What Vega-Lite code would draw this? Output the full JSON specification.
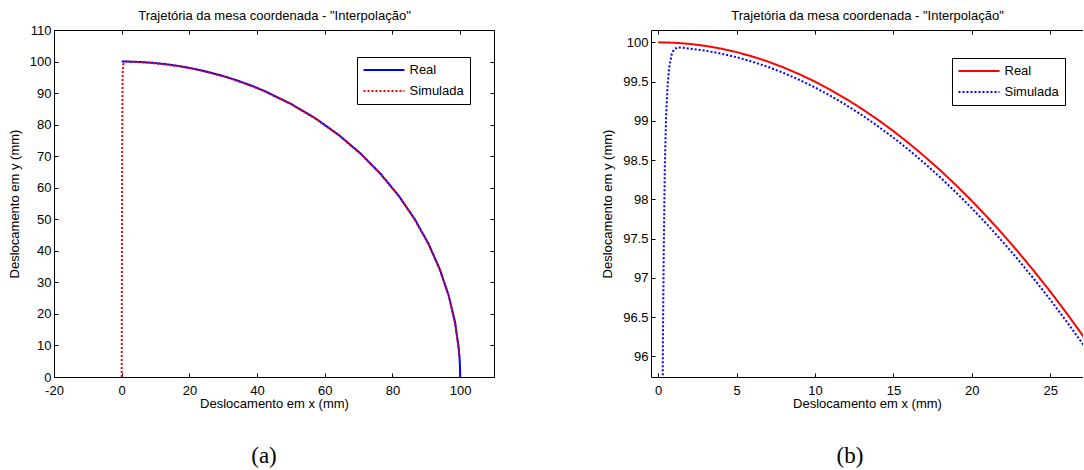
{
  "$schema": "https://vega.github.io/schema/vega-lite/v6.json",
  "background": "white",
  "padding": {"left": 8, "top": 9, "right": 0, "bottom": 0},
  "datasets": {
    "traj": [
      {"s": "Real", "i": 0, "x": 0, "y": 100},
      {"s": "Real", "i": 1, "x": 1, "y": 99.995},
      {"s": "Real", "i": 2, "x": 2, "y": 99.98},
      {"s": "Real", "i": 3, "x": 3, "y": 99.955},
      {"s": "Real", "i": 4, "x": 4, "y": 99.92},
      {"s": "Real", "i": 5, "x": 5, "y": 99.875},
      {"s": "Real", "i": 6, "x": 6, "y": 99.82},
      {"s": "Real", "i": 7, "x": 7, "y": 99.755},
      {"s": "Real", "i": 8, "x": 8, "y": 99.679},
      {"s": "Real", "i": 9, "x": 9, "y": 99.594},
      {"s": "Real", "i": 10, "x": 10, "y": 99.499},
      {"s": "Real", "i": 11, "x": 11, "y": 99.393},
      {"s": "Real", "i": 12, "x": 12, "y": 99.277},
      {"s": "Real", "i": 13, "x": 13, "y": 99.151},
      {"s": "Real", "i": 14, "x": 14, "y": 99.015},
      {"s": "Real", "i": 15, "x": 15, "y": 98.869},
      {"s": "Real", "i": 16, "x": 16, "y": 98.712},
      {"s": "Real", "i": 17, "x": 17, "y": 98.544},
      {"s": "Real", "i": 18, "x": 18, "y": 98.367},
      {"s": "Real", "i": 19, "x": 19, "y": 98.178},
      {"s": "Real", "i": 20, "x": 20, "y": 97.98},
      {"s": "Real", "i": 21, "x": 21, "y": 97.77},
      {"s": "Real", "i": 22, "x": 22, "y": 97.55},
      {"s": "Real", "i": 23, "x": 23, "y": 97.319},
      {"s": "Real", "i": 24, "x": 24, "y": 97.077},
      {"s": "Real", "i": 25, "x": 25, "y": 96.825},
      {"s": "Real", "i": 26, "x": 26, "y": 96.561},
      {"s": "Real", "i": 27, "x": 27, "y": 96.286},
      {"s": "Real", "i": 28, "x": 28, "y": 96.0},
      {"s": "Real", "i": 29, "x": 31, "y": 95.074},
      {"s": "Real", "i": 30, "x": 34.202, "y": 93.969},
      {"s": "Real", "i": 31, "x": 38.268, "y": 92.388},
      {"s": "Real", "i": 32, "x": 42.262, "y": 90.631},
      {"s": "Real", "i": 33, "x": 50, "y": 86.603},
      {"s": "Real", "i": 34, "x": 57.358, "y": 81.915},
      {"s": "Real", "i": 35, "x": 64.279, "y": 76.604},
      {"s": "Real", "i": 36, "x": 70.711, "y": 70.711},
      {"s": "Real", "i": 37, "x": 76.604, "y": 64.279},
      {"s": "Real", "i": 38, "x": 81.915, "y": 57.358},
      {"s": "Real", "i": 39, "x": 86.603, "y": 50},
      {"s": "Real", "i": 40, "x": 90.631, "y": 42.262},
      {"s": "Real", "i": 41, "x": 93.969, "y": 34.202},
      {"s": "Real", "i": 42, "x": 96.593, "y": 25.882},
      {"s": "Real", "i": 43, "x": 98.481, "y": 17.365},
      {"s": "Real", "i": 44, "x": 99.619, "y": 8.716},
      {"s": "Real", "i": 45, "x": 99.863, "y": 5.234},
      {"s": "Real", "i": 46, "x": 99.966, "y": 2.618},
      {"s": "Real", "i": 47, "x": 100, "y": 0},
      {"s": "Simulada", "i": 0, "x": 0, "y": 0},
      {"s": "Simulada", "i": 1, "x": 0.03, "y": 20},
      {"s": "Simulada", "i": 2, "x": 0.08, "y": 50},
      {"s": "Simulada", "i": 3, "x": 0.15, "y": 75},
      {"s": "Simulada", "i": 4, "x": 0.22, "y": 90},
      {"s": "Simulada", "i": 5, "x": 0.27, "y": 95},
      {"s": "Simulada", "i": 6, "x": 0.3, "y": 96.2},
      {"s": "Simulada", "i": 7, "x": 0.35, "y": 97.3},
      {"s": "Simulada", "i": 8, "x": 0.42, "y": 98.4},
      {"s": "Simulada", "i": 9, "x": 0.5, "y": 99.05},
      {"s": "Simulada", "i": 10, "x": 0.6, "y": 99.45},
      {"s": "Simulada", "i": 11, "x": 0.7, "y": 99.68},
      {"s": "Simulada", "i": 12, "x": 0.85, "y": 99.84},
      {"s": "Simulada", "i": 13, "x": 1.0, "y": 99.91},
      {"s": "Simulada", "i": 14, "x": 1.2, "y": 99.932},
      {"s": "Simulada", "i": 15, "x": 1.4, "y": 99.935},
      {"s": "Simulada", "i": 16, "x": 2, "y": 99.921},
      {"s": "Simulada", "i": 17, "x": 3, "y": 99.894},
      {"s": "Simulada", "i": 18, "x": 4, "y": 99.857},
      {"s": "Simulada", "i": 19, "x": 5, "y": 99.81},
      {"s": "Simulada", "i": 20, "x": 6, "y": 99.754},
      {"s": "Simulada", "i": 21, "x": 7, "y": 99.687},
      {"s": "Simulada", "i": 22, "x": 8, "y": 99.609},
      {"s": "Simulada", "i": 23, "x": 9, "y": 99.522},
      {"s": "Simulada", "i": 24, "x": 10, "y": 99.425},
      {"s": "Simulada", "i": 25, "x": 11, "y": 99.317},
      {"s": "Simulada", "i": 26, "x": 12, "y": 99.199},
      {"s": "Simulada", "i": 27, "x": 13, "y": 99.071},
      {"s": "Simulada", "i": 28, "x": 14, "y": 98.933},
      {"s": "Simulada", "i": 29, "x": 15, "y": 98.785},
      {"s": "Simulada", "i": 30, "x": 16, "y": 98.626},
      {"s": "Simulada", "i": 31, "x": 17, "y": 98.456},
      {"s": "Simulada", "i": 32, "x": 18, "y": 98.277},
      {"s": "Simulada", "i": 33, "x": 19, "y": 98.086},
      {"s": "Simulada", "i": 34, "x": 20, "y": 97.886},
      {"s": "Simulada", "i": 35, "x": 21, "y": 97.674},
      {"s": "Simulada", "i": 36, "x": 22, "y": 97.452},
      {"s": "Simulada", "i": 37, "x": 23, "y": 97.219},
      {"s": "Simulada", "i": 38, "x": 24, "y": 96.975},
      {"s": "Simulada", "i": 39, "x": 25, "y": 96.721},
      {"s": "Simulada", "i": 40, "x": 26, "y": 96.455},
      {"s": "Simulada", "i": 41, "x": 27, "y": 96.178},
      {"s": "Simulada", "i": 42, "x": 28, "y": 95.89},
      {"s": "Simulada", "i": 43, "x": 31, "y": 94.96},
      {"s": "Simulada", "i": 44, "x": 34.2, "y": 93.85},
      {"s": "Simulada", "i": 45, "x": 38.27, "y": 92.27},
      {"s": "Simulada", "i": 46, "x": 42.26, "y": 90.51},
      {"s": "Simulada", "i": 47, "x": 50, "y": 86.48},
      {"s": "Simulada", "i": 48, "x": 57.36, "y": 81.8},
      {"s": "Simulada", "i": 49, "x": 64.28, "y": 76.49},
      {"s": "Simulada", "i": 50, "x": 70.71, "y": 70.6},
      {"s": "Simulada", "i": 51, "x": 76.6, "y": 64.18},
      {"s": "Simulada", "i": 52, "x": 81.91, "y": 57.26},
      {"s": "Simulada", "i": 53, "x": 86.6, "y": 49.9},
      {"s": "Simulada", "i": 54, "x": 90.63, "y": 42.17},
      {"s": "Simulada", "i": 55, "x": 93.97, "y": 34.1},
      {"s": "Simulada", "i": 56, "x": 96.59, "y": 25.8},
      {"s": "Simulada", "i": 57, "x": 98.48, "y": 17.28},
      {"s": "Simulada", "i": 58, "x": 99.45, "y": 10.3},
      {"s": "Simulada", "i": 59, "x": 99.76, "y": 6.5}
    ]
  },
  "hconcat": [
    {
      "width": 440,
      "height": 347,
      "title": {"text": "(a)", "orient": "bottom", "font": "Liberation Serif", "fontSize": 23, "fontWeight": "normal", "color": "black", "dx": -10, "offset": 35},
      "data": {"name": "traj"},
      "layer": [
        {
          "mark": {"type": "line", "strokeWidth": 2, "clip": true},
          "encoding": {
            "x": {"field": "x", "type": "quantitative", "scale": {"domain": [-20, 110], "nice": false, "zero": false},
                  "axis": {"orient": "bottom", "values": [-20, 0, 20, 40, 60, 80, 100], "labelExpr": "'' + datum.value", "title": "Deslocamento em x (mm)", "labelPadding": 11, "titlePadding": 0}},
            "y": {"field": "y", "type": "quantitative", "scale": {"domain": [0, 110], "nice": false, "zero": false},
                  "axis": {"orient": "left", "values": [0, 10, 20, 30, 40, 50, 60, 70, 80, 90, 100, 110], "title": "Deslocamento em y (mm)", "labelPadding": 7, "titlePadding": 8}},
            "color": {"field": "s", "type": "nominal", "scale": {"domain": ["Real", "Simulada"], "range": ["#0000ff", "#ff0000"]},
                      "legend": {"orient": "none", "legendX": 303, "legendY": 27, "title": null}},
            "strokeDash": {"field": "s", "type": "nominal", "scale": {"domain": ["Real", "Simulada"], "range": [[1, 0], [2, 2]]},
                      "legend": {"orient": "none", "legendX": 303, "legendY": 27, "title": null}},
            "order": {"field": "i", "type": "quantitative"}
          }
        },
        {
          "mark": {"type": "point", "opacity": 0, "clip": true},
          "encoding": {
            "x": {"field": "x", "type": "quantitative", "scale": {"domain": [-20, 110], "nice": false, "zero": false},
                  "axis": {"orient": "top", "values": [-20, 0, 20, 40, 60, 80, 100], "labels": false, "title": "Trajetória da mesa coordenada - \"Interpolação\"", "titlePadding": 7}},
            "y": {"field": "y", "type": "quantitative", "scale": {"domain": [0, 110], "nice": false, "zero": false},
                  "axis": {"orient": "right", "values": [0, 10, 20, 30, 40, 50, 60, 70, 80, 90, 100, 110], "labels": false, "title": null}}
          }
        }
      ],
      "resolve": {"axis": {"x": "independent", "y": "independent"}}
    },
    {
      "width": 432,
      "height": 347,
      "title": {"text": "(b)", "orient": "bottom", "font": "Liberation Serif", "fontSize": 23, "fontWeight": "normal", "color": "black", "dx": -17, "offset": 35},
      "data": {"name": "traj"},
      "layer": [
        {
          "mark": {"type": "line", "strokeWidth": 2, "clip": true},
          "encoding": {
            "x": {"field": "x", "type": "quantitative", "scale": {"domain": [-0.46, 27.09], "nice": false, "zero": false},
                  "axis": {"orient": "bottom", "values": [0, 5, 10, 15, 20, 25], "title": "Deslocamento em x (mm)", "labelPadding": 11, "titlePadding": 0}},
            "y": {"field": "y", "type": "quantitative", "scale": {"domain": [95.736, 100.157], "nice": false, "zero": false},
                  "axis": {"orient": "left", "values": [96, 96.5, 97, 97.5, 98, 98.5, 99, 99.5, 100], "format": "~g", "title": "Deslocamento em y (mm)", "labelPadding": 7, "titlePadding": 8}},
            "color": {"field": "s", "type": "nominal", "scale": {"domain": ["Real", "Simulada"], "range": ["#ff0000", "#0000ff"]},
                      "legend": {"orient": "none", "legendX": 301, "legendY": 28, "title": null}},
            "strokeDash": {"field": "s", "type": "nominal", "scale": {"domain": ["Real", "Simulada"], "range": [[1, 0], [2, 2]]},
                      "legend": {"orient": "none", "legendX": 301, "legendY": 28, "title": null}},
            "order": {"field": "i", "type": "quantitative"}
          }
        },
        {
          "mark": {"type": "point", "opacity": 0, "clip": true},
          "encoding": {
            "x": {"field": "x", "type": "quantitative", "scale": {"domain": [-0.46, 27.09], "nice": false, "zero": false},
                  "axis": {"orient": "top", "values": [0, 5, 10, 15, 20, 25], "labels": false, "title": "Trajetória da mesa coordenada - \"Interpolação\"", "titlePadding": 7}},
            "y": {"field": "y", "type": "quantitative", "scale": {"domain": [95.736, 100.157], "nice": false, "zero": false},
                  "axis": null}
          }
        }
      ],
      "resolve": {"axis": {"x": "independent", "y": "independent"}}
    }
  ],
  "spacing": 157,
  "bounds": "flush",
  "resolve": {
    "scale": {"color": "independent", "strokeDash": "independent", "x": "independent", "y": "independent"},
    "legend": {"color": "independent", "strokeDash": "independent"}
  },
  "config": {
    "font": "Liberation Sans",
    "view": {"stroke": null},
    "axis": {
      "labelFont": "Liberation Sans", "labelFontSize": 13, "labelColor": "black",
      "titleFont": "Liberation Sans", "titleFontSize": 13, "titleFontWeight": "normal", "titleColor": "black",
      "domainColor": "black", "domainWidth": 1, "tickColor": "black", "tickSize": -4, "tickWidth": 1,
      "grid": false, "labelFlush": false, "labelOverlap": false
    },
    "legend": {
      "strokeColor": "black", "fillColor": "white", "padding": 5.5, "symbolType": "M-1,0H5.31", "symbolSize": 169,
      "symbolStrokeWidth": 2, "labelFont": "Liberation Sans", "labelFontSize": 13, "labelColor": "black",
      "labelOffset": 32, "rowPadding": 6, "symbolOpacity": 1
    },
    "title": {"color": "black"}
  }
}
